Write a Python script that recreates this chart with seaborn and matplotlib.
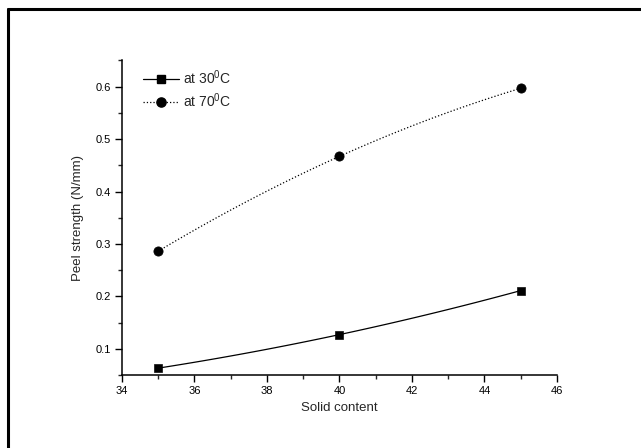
import numpy as np
import pandas as pd
import matplotlib
matplotlib.use("Agg")
import matplotlib.pyplot as plt
import seaborn as sns
from matplotlib.ticker import MultipleLocator
from matplotlib.lines import Line2D

solid_content = [35, 40, 45]
peel_30 = [0.063, 0.127, 0.211]
peel_70 = [0.286, 0.467, 0.597]
series_labels = ["at 30$^0$C", "at 70$^0$C"]

sns.set_theme(style="ticks")
plt.rcParams['font.family'] = ['Liberation Sans', 'DejaVu Sans']
plt.rcParams['mathtext.fontset'] = 'custom'
plt.rcParams['mathtext.rm'] = 'Liberation Sans'

fig = plt.figure(figsize=(6.41, 4.48), dpi=100)
ax = fig.add_axes([0.190, 0.163, 0.679, 0.702])

# outer frame (top & left only)
fig.add_artist(Line2D([0.0125, 0.0125], [0, 0.981], transform=fig.transFigure, color='black', lw=2.2))
fig.add_artist(Line2D([0.0125, 1.0], [0.981, 0.981], transform=fig.transFigure, color='black', lw=2.2))

def smooth(xs, ys):
    c = np.polyfit(xs, ys, 2)
    xx = np.linspace(min(xs), max(xs), 100)
    return xx, np.polyval(c, xx)

for ys, marker, ls in [(peel_30, 's', '-'), (peel_70, 'o', ':')]:
    xx, yy = smooth(solid_content, ys)
    sns.lineplot(x=xx, y=yy, ax=ax, color='black', lw=0.9, linestyle=ls)
    sns.scatterplot(x=solid_content, y=ys, ax=ax, color='black', marker=marker,
                    s=32 if marker == 's' else 44, edgecolor='black', zorder=5)

handles = [Line2D([], [], color='black', marker='s', ls='-', lw=0.9, markersize=5.7),
           Line2D([], [], color='black', marker='o', ls=':', lw=0.9, markersize=6.6)]
ax.legend(handles, series_labels, loc='upper left', bbox_to_anchor=(0.02, 1.015),
          frameon=False, fontsize=10, handlelength=2.6, handletextpad=0.3,
          labelspacing=0.3)

ax.set_xlim(34, 46)
ax.set_ylim(0.05, 0.65)
ax.xaxis.set_major_locator(MultipleLocator(2))
ax.xaxis.set_minor_locator(MultipleLocator(1))
ax.yaxis.set_major_locator(MultipleLocator(0.1))
ax.yaxis.set_minor_locator(MultipleLocator(0.05))
ax.set_yticks([0.1, 0.2, 0.3, 0.4, 0.5, 0.6])
ax.tick_params(which='major', direction='out', length=5, width=1, labelsize=8, pad=3, colors='black')
ax.tick_params(which='minor', direction='out', length=3, width=1)
for s in ['top', 'right']:
    ax.spines[s].set_visible(False)
for s in ['left', 'bottom']:
    ax.spines[s].set_linewidth(1.1)
    ax.spines[s].set_color('black')

ax.set_xlabel("Solid content", fontsize=9.5, labelpad=4)
ax.set_ylabel("Peel strength (N/mm)", fontsize=9.5, labelpad=8)

fig.savefig("out.png", dpi=100)
